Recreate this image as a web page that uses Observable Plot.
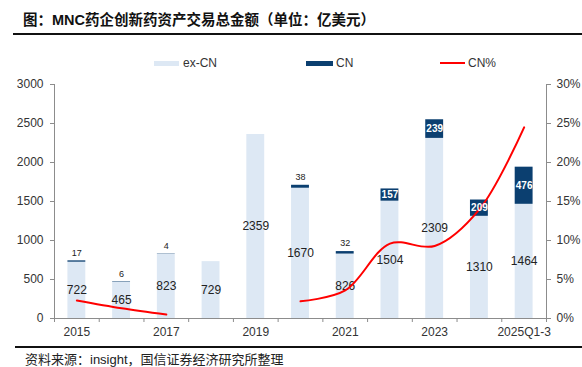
<!DOCTYPE html>
<html>
<head>
<meta charset="utf-8">
<script src="https://cdn.jsdelivr.net/npm/d3@7"></script>
<script src="https://cdn.jsdelivr.net/npm/@observablehq/plot@0.6"></script>
<style>
  html, body { margin: 0; padding: 0; background: #fff; }
  #wrap { position: relative; width: 582px; height: 367px; overflow: hidden;
    font-family: "Liberation Sans", Arial, "Noto Sans CJK SC", sans-serif; color: #222; }
  #title { position: absolute; left: 23px; top: 10px; font-size: 14.5px; font-weight: bold;
    font-family: "Liberation Sans", Arial, "Noto Sans CJK SC", sans-serif; color: #111; line-height: 20px; white-space: nowrap; }
  #tline { position: absolute; left: 13px; top: 33px; width: 569px; height: 2px; background: #111; }
  #cline { position: absolute; left: 15px; top: 346px; width: 567px; height: 1.5px; background: #111; }
  #caption { position: absolute; left: 25px; top: 352px; font-size: 13px; line-height: 15px; white-space: nowrap;
    font-family: "Liberation Sans", Arial, "Noto Sans CJK SC", sans-serif; color: #222; }
  #chart { position: absolute; left: 0; top: 40px; }
  .leg { position: absolute; font-size: 12px; line-height: 14px; top: 56px; color: #333; }
  .sw { position: absolute; }
</style>
</head>
<body>
<div id="wrap">
  <div id="title">图：MNC药企创新药资产交易总金额（单位：亿美元）</div>
  <div id="tline"></div>
  <div id="chart"></div>
  <div class="sw" style="left:154px;top:61px;width:25px;height:5px;background:#dde8f4"></div>
  <div class="leg" style="left:183px">ex-CN</div>
  <div class="sw" style="left:306px;top:61px;width:27px;height:5px;background:#0b3f70"></div>
  <div class="leg" style="left:336px">CN</div>
  <div class="sw" style="left:440px;top:62px;width:25px;height:2px;background:#ff0000"></div>
  <div class="leg" style="left:468px">CN%</div>
  <div id="cline"></div>
  <div id="caption">资料来源：insight，国信证券经济研究所整理</div>
</div>
<script>
const categories = ["2015","2016","2017","2018","2019","2020","2021","2022","2023","2024","2025Q1-3"];
const exCN = [722, 465, 823, 729, 2359, 1670, 826, 1504, 2309, 1310, 1464];
const CN = [17, 6, 4, 0, 0, 38, 32, 157, 239, 209, 476];
const cnPct = [2.3, 1.3, 0.5, null, null, 2.2, 3.6, 9.6, 9.3, 14.0, 24.5];
const leftTicks = [0, 500, 1000, 1500, 2000, 2500, 3000];
const xLabelIdx = [0, 2, 4, 6, 8, 10];

const data = categories.map((c, i) => ({i, cat: c, ex: exCN[i], cn: CN[i], pct: cnPct[i]}));
const bounds = d3.range(-0.5, 11, 1);
const half = 0.2;

const chart = Plot.plot({
  width: 582,
  height: 305,
  marginTop: 44,
  marginBottom: 27,
  marginLeft: 54,
  marginRight: 36,
  style: {background: "transparent", fontFamily: "'Liberation Sans', Arial, sans-serif", fontSize: "12px", color: "#333"},
  x: {type: "linear", domain: [-0.5, 10.5]},
  y: {domain: [0, 3000]},
  marks: [
    Plot.rectY(data, {x1: d => d.i - half, x2: d => d.i + half, y1: 0, y2: d => d.ex, fill: "#dde8f4"}),
    Plot.rectY(data.filter(d => d.cn > 0), {x1: d => d.i - half, x2: d => d.i + half, y1: d => d.ex, y2: d => d.ex + d.cn, fill: "#0b3f70"}),
    Plot.ruleY([0], {x1: -0.5, x2: 10.5, stroke: "#8c8c8c"}),
    Plot.ruleX([-0.5, 10.5], {y1: 0, y2: 3000, stroke: "#8c8c8c"}),
    Plot.axisY({anchor: "left", ticks: leftTicks, tickFormat: d => String(d), tickSize: 4, tickPadding: 7, label: null, stroke: "#8c8c8c", fill: "#333"}),
    Plot.axisY({anchor: "right", ticks: leftTicks, tickFormat: d => (d / 100) + "%", tickSize: 4, tickPadding: 6, label: null, stroke: "#8c8c8c", fill: "#333"}),
    Plot.axisX({anchor: "bottom", ticks: bounds, tickFormat: () => "", tickSize: 4, label: null, stroke: "#8c8c8c"}),
    Plot.axisX({anchor: "bottom", ticks: xLabelIdx, tickFormat: i => categories[i], tickSize: 0, tickPadding: 9, label: null, fill: "#333"}),
    Plot.text(data, {x: "i", y: d => d.ex / 2, text: d => String(d.ex), fontSize: 12, fill: "#222"}),
    Plot.line(data, {x: "i", y: d => d.pct == null ? NaN : d.pct * 100, stroke: "#ff0000", strokeWidth: 2, curve: "catmull-rom"}),
    Plot.text(data.filter(d => d.cn > 0 && d.cn < 100), {x: "i", y: d => d.ex + d.cn, dy: -8, text: d => String(d.cn), fontSize: 9, fill: "#222"}),
    Plot.text(data.filter(d => d.cn >= 100), {x: "i", y: d => d.ex + d.cn / 2, text: d => String(d.cn), fontSize: 10, fontWeight: "bold", fill: "#fff"})
  ]
});
document.getElementById("chart").appendChild(chart);
</script>
</body>
</html>
